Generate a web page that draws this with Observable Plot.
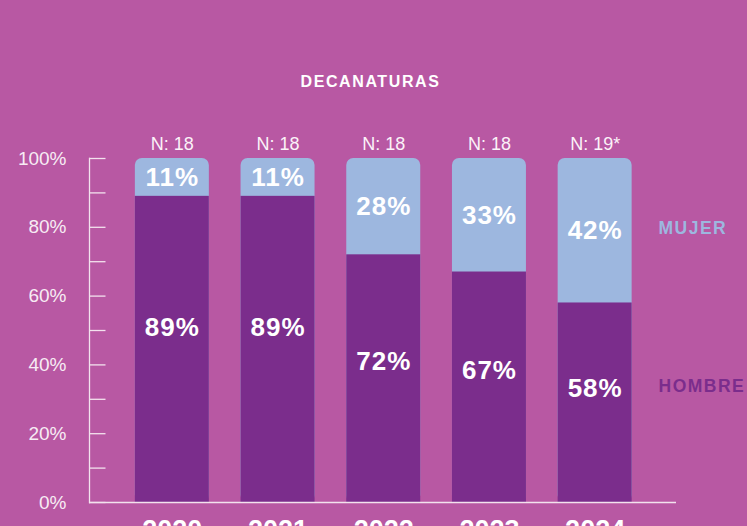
<!DOCTYPE html>
<html>
<head>
<meta charset="utf-8">
<script src="https://cdn.jsdelivr.net/npm/d3@7"></script>
<script src="https://cdn.jsdelivr.net/npm/@observablehq/plot@0.6"></script>
<style>
  html, body { margin: 0; padding: 0; background: #b858a3; overflow: hidden; width: 747px; height: 526px; }
  #wrap { position: relative; width: 747px; height: 526px; }
  #title { position: absolute; left: 0; top: 74px; width: 741px; text-align: center;
    font-family: "Liberation Sans", Arial, sans-serif; font-weight: bold; font-size: 16px;
    line-height: 1; letter-spacing: 1.6px; color: #ffffff; }
  #chart { position: absolute; left: 0; top: 100px; }
  g[aria-description="legend"] text { letter-spacing: 1.5px; }
  g[aria-description="pct"] text { letter-spacing: 1px; }
</style>
</head>
<body>
<div id="wrap">
  <div id="title">DECANATURAS</div>
  <div id="chart"></div>
</div>
<script>
const years = ["2020", "2021", "2022", "2023", "2024"];
const hombre = [89, 89, 72, 67, 58];
const mujer = [11, 11, 28, 33, 42];
const nLabels = ["N: 18", "N: 18", "N: 18", "N: 18", "N: 19*"];
const yTickLabels = [0, 20, 40, 60, 80, 100];
const yMinorTicks = [0, 10, 20, 30, 40, 50, 60, 70, 80, 90, 100];
const legendLabels = ["MUJER", "HOMBRE"];

const colorHombre = "#7b2d8c";
const colorMujer = "#9db7df";
const axisColor = "#f3e2ee";

const data = years.map((year, i) => ({year, hombre: hombre[i], mujer: mujer[i], n: nLabels[i]}));
const last = data[data.length - 1];
const legendData = [
  {label: legendLabels[0], y: last.hombre + last.mujer / 2, color: colorMujer},
  {label: legendLabels[1], y: last.hombre * 0.57, color: colorHombre}
];

const W = 747, H = 426, mL = 89, mR = 71;
const frameW = W - mL - mR;

const plot = Plot.plot({
  width: W,
  height: H,
  marginTop: 58,
  marginBottom: 24,
  marginLeft: mL,
  marginRight: mR,
  style: {background: "transparent", color: axisColor, fontFamily: "'Liberation Sans', Arial, sans-serif", overflow: "visible"},
  x: {type: "band", domain: years, paddingInner: 0.3, paddingOuter: 0.15, insetLeft: 30, insetRight: 28.5, round: false},
  y: {domain: [0, 100]},
  marks: [
    Plot.barY(data, {x: "year", y1: 0, y2: d => d.hombre + d.mujer, fill: colorMujer, rx: 7}),
    Plot.barY(data, {x: "year", y1: 0, y2: "hombre", fill: colorHombre}),
    Plot.ruleY(yMinorTicks, {y: d => d, stroke: axisColor, strokeWidth: 1.3, insetRight: frameW - 16.5}),
    Plot.frame({anchor: "left", stroke: axisColor, strokeWidth: 1.3}),
    Plot.ruleY([0], {stroke: axisColor, strokeWidth: 1.5}),
    Plot.axisY({ticks: yTickLabels, tickSize: 0, tickPadding: 23, tickFormat: d => d + "%", fontSize: 19, color: "#f7ecf4", label: null}),
    Plot.axisX({tickSize: 0, tickPadding: 17, fontSize: 27, fontWeight: "bold", color: "#ffffff", label: null}),
    Plot.text(data, {x: "year", y: () => 100, text: "n", dy: -8.5, lineAnchor: "bottom", fontSize: 18, fill: "#fbf2f8"}),
    Plot.text(data, {x: "year", y: d => d.hombre + d.mujer / 2, text: d => d.mujer + "%", fontSize: 26, fontWeight: "bold", fill: "#ffffff", ariaDescription: "pct"}),
    Plot.text(data, {x: "year", y: d => d.hombre * 0.57, text: d => d.hombre + "%", fontSize: 26, fontWeight: "bold", fill: "#ffffff", ariaDescription: "pct"}),
    Plot.text(legendData, {frameAnchor: "right", y: "y", text: "label", fill: "color", dx: -18, dy: -2, textAnchor: "start", fontSize: 17.5, fontWeight: "bold", ariaDescription: "legend"})
  ]
});
document.getElementById("chart").appendChild(plot);
</script>
</body>
</html>
